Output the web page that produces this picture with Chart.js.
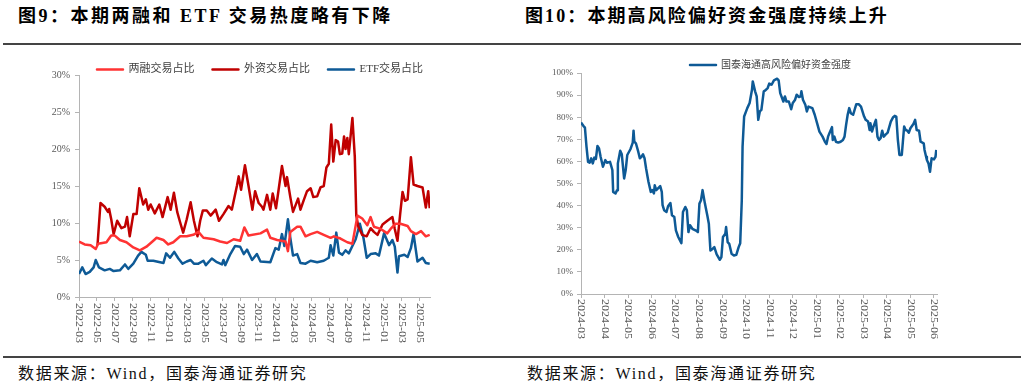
<!DOCTYPE html>
<html>
<head>
<meta charset="utf-8">
<script src="https://cdn.jsdelivr.net/npm/chart.js@4.4.1/dist/chart.umd.min.js"></script>
<style>
  body { margin: 0; width: 1024px; height: 387px; background: #fff; position: relative; overflow: hidden; }
  .title { position: absolute; top: 5px; font: bold 18px "Liberation Serif", "Noto Sans CJK SC", serif; letter-spacing: 2px; color: #000; white-space: nowrap; line-height: 22px; }
  .rule { position: absolute; left: 3px; width: 1018px; height: 2px; background: #444; }
  .src { position: absolute; top: 364px; font: 16px "Liberation Serif", "Noto Sans CJK SC", serif; letter-spacing: 1.7px; color: #111; white-space: nowrap; line-height: 20px; }
  canvas { position: absolute; top: 46px; }
</style>
</head>
<body>
<div class="title" style="left:18px; letter-spacing:2.5px">图9：本期两融和 ETF 交易热度略有下降</div>
<div class="title" style="left:525px; letter-spacing:2.1px">图10：本期高风险偏好资金强度持续上升</div>
<div class="rule" style="top:43px"></div>
<canvas id="leftChart" width="512" height="304" style="left:0"></canvas>
<canvas id="rightChart" width="512" height="304" style="left:512px"></canvas>
<div class="rule" style="top:356px"></div>
<div class="src" style="left:18px">数据来源：Wind，国泰海通证券研究</div>
<div class="src" style="left:527px">数据来源：Wind，国泰海通证券研究</div>

<script>
// ---- left chart: 2022-03 .. 2025-06 ----
const leftTickLabels = ['2022-03', '2022-05', '2022-07', '2022-09', '2022-11', '2023-01', '2023-03', '2023-05',
  '2023-07', '2023-09', '2023-11', '2024-01', '2024-03', '2024-05', '2024-07', '2024-09', '2024-11',
  '2025-01', '2025-03', '2025-05'];

const rzDates = ['2022-03-01', '2022-03-20', '2022-04-10', '2022-04-27', '2022-05-05', '2022-06-03', '2022-06-19', '2022-07-01', '2022-07-18', '2022-08-10',
  '2022-09-03', '2022-09-14', '2022-09-25', '2022-10-17', '2022-11-10', '2022-11-21', '2022-12-14', '2022-12-30', '2023-01-17', '2023-02-10',
  '2023-03-02', '2023-03-24', '2023-04-11', '2023-04-28', '2023-06-02', '2023-06-24', '2023-07-17', '2023-08-09', '2023-09-01', '2023-09-15',
  '2023-09-29', '2023-11-09', '2023-12-01', '2023-12-12', '2024-01-05', '2024-02-03', '2024-02-11', '2024-02-19', '2024-03-12', '2024-03-23',
  '2024-04-10', '2024-04-27', '2024-05-19', '2024-06-11', '2024-07-04', '2024-07-15', '2024-08-07', '2024-08-30', '2024-09-17', '2024-10-04',
  '2024-10-20', '2024-11-07', '2024-11-18', '2024-11-29', '2024-12-22', '2025-01-14', '2025-01-25', '2025-02-12', '2025-02-28', '2025-03-22',
  '2025-04-03', '2025-04-20', '2025-05-07', '2025-05-23', '2025-06-06'];
const rzValues = [7.5, 7.1, 7.0, 6.5, 7.2, 7.4, 8.3, 8.3, 7.7, 7.4,
  6.7, 6.5, 6.3, 6.8, 7.6, 8.0, 7.7, 7.1, 7.4, 8.2,
  8.2, 8.4, 8.8, 8.0, 7.8, 7.5, 7.3, 7.8, 7.6, 9.4,
  8.3, 8.6, 9.1, 8.0, 7.7, 7.5, 6.2, 8.8, 9.5, 9.5,
  8.2, 8.5, 8.8, 8.4, 8.0, 8.2, 7.9, 7.4, 7.2, 11.0,
  10.6, 9.7, 10.8, 9.5, 9.2, 8.6, 9.2, 9.9, 9.9, 9.6,
  8.9, 8.5, 8.9, 8.2, 8.4];

const wzDates = ['2022-05-03', '2022-05-13', '2022-05-27', '2022-06-08', '2022-06-12', '2022-06-19', '2022-06-27', '2022-07-09', '2022-07-23', '2022-08-05',
  '2022-08-12', '2022-08-21', '2022-09-03', '2022-09-14', '2022-09-23', '2022-10-06', '2022-10-15', '2022-10-23', '2022-11-01', '2022-11-15',
  '2022-11-30', '2022-12-11', '2022-12-28', '2023-01-08', '2023-01-19', '2023-01-30', '2023-02-09', '2023-02-20', '2023-03-02', '2023-03-15',
  '2023-03-26', '2023-04-08', '2023-04-17', '2023-04-26', '2023-05-09', '2023-05-22', '2023-06-09', '2023-06-20', '2023-07-05', '2023-07-22',
  '2023-08-03', '2023-08-20', '2023-08-26', '2023-09-04', '2023-09-17', '2023-09-29', '2023-10-12', '2023-10-21', '2023-11-03', '2023-11-14',
  '2023-11-19', '2023-12-01', '2023-12-12', '2023-12-20', '2024-01-01', '2024-01-21', '2024-02-03', '2024-02-08', '2024-02-19', '2024-02-28',
  '2024-03-15', '2024-03-23', '2024-04-04', '2024-04-15', '2024-04-27', '2024-05-06', '2024-05-19', '2024-05-30', '2024-06-11', '2024-06-20',
  '2024-06-28', '2024-07-06', '2024-07-13', '2024-07-21', '2024-07-29', '2024-08-05', '2024-08-13', '2024-08-19', '2024-08-24', '2024-08-30',
  '2024-09-05', '2024-09-17', '2024-09-25', '2024-09-30', '2024-10-07', '2024-10-20', '2024-11-05', '2024-11-18', '2024-11-29', '2024-12-11',
  '2024-12-28', '2025-01-14', '2025-02-01', '2025-02-09', '2025-02-18', '2025-02-27', '2025-03-05', '2025-03-13', '2025-03-22', '2025-04-03',
  '2025-04-12', '2025-04-25', '2025-05-12', '2025-05-23', '2025-06-01', '2025-06-06'];
const wzValues = [7.0, 12.7, 12.2, 11.5, 11.9, 10.5, 8.5, 10.3, 9.3, 9.5,
  10.8, 8.2, 11.2, 11.2, 14.7, 12.5, 13.2, 11.8, 12.5, 11.3,
  12.5, 10.8, 13.5, 11.8, 14.1, 11.5, 10.2, 8.7, 10.5, 12.8,
  10.3, 8.2, 10.3, 11.7, 11.7, 11.0, 11.8, 10.3, 11.2, 12.3,
  11.8, 15.0, 16.3, 14.5, 17.8, 15.0, 11.8, 14.3, 12.7, 12.2,
  11.8, 13.8, 11.8, 14.0, 12.0, 17.7, 15.0, 16.2, 13.5, 11.5,
  13.3, 11.8, 13.1, 14.3, 14.7, 13.5, 13.6, 14.8, 15.0, 17.5,
  18.0, 23.3, 18.3, 21.2, 21.0, 19.3, 19.4, 21.7, 20.0, 21.5,
  19.3, 24.2, 19.0, 11.0, 9.5, 8.4, 8.2, 9.3, 8.8, 8.4,
  9.8, 10.3, 10.8, 9.2, 7.6, 11.2, 14.2, 13.0, 13.2, 18.9,
  15.2, 15.0, 14.8, 12.1, 14.3, 12.0];

const etfDates = ['2022-03-01', '2022-03-12', '2022-03-23', '2022-04-07', '2022-04-20', '2022-04-27', '2022-05-08', '2022-05-27', '2022-06-14', '2022-06-27',
  '2022-07-18', '2022-08-05', '2022-08-16', '2022-09-03', '2022-09-19', '2022-09-30', '2022-10-15', '2022-10-21', '2022-11-10', '2022-12-14',
  '2022-12-23', '2023-01-06', '2023-01-20', '2023-02-04', '2023-02-18', '2023-03-02', '2023-03-15', '2023-03-26', '2023-04-11', '2023-04-28',
  '2023-05-06', '2023-05-26', '2023-06-13', '2023-06-30', '2023-07-05', '2023-07-11', '2023-07-28', '2023-08-14', '2023-09-01', '2023-09-13',
  '2023-09-24', '2023-10-11', '2023-10-27', '2023-11-09', '2023-12-12', '2023-12-29', '2024-01-10', '2024-01-21', '2024-01-29', '2024-02-11',
  '2024-02-19', '2024-02-28', '2024-03-12', '2024-03-23', '2024-04-10', '2024-04-27', '2024-05-19', '2024-06-11', '2024-06-28', '2024-07-04',
  '2024-07-13', '2024-07-23', '2024-08-02', '2024-08-13', '2024-08-24', '2024-09-05', '2024-09-17', '2024-09-28', '2024-10-12', '2024-10-24',
  '2024-11-05', '2024-11-18', '2024-12-05', '2024-12-16', '2025-01-03', '2025-01-20', '2025-02-01', '2025-02-09', '2025-02-18', '2025-02-23',
  '2025-03-11', '2025-03-22', '2025-04-03', '2025-04-12', '2025-04-25', '2025-05-12', '2025-05-23', '2025-06-06'];
const etfValues = [3.1, 4.0, 3.1, 3.4, 4.0, 5.0, 4.0, 3.6, 3.8, 3.5,
  3.6, 4.4, 3.8, 4.5, 5.6, 6.1, 5.7, 4.9, 4.9, 4.6,
  5.9, 5.3, 6.1, 5.2, 4.5, 4.8, 5.0, 4.5, 4.5, 4.9,
  4.3, 5.2, 4.7, 4.4, 5.0, 4.3, 5.8, 6.9, 6.8, 5.8,
  6.4, 5.0, 5.8, 4.8, 4.7, 6.6, 6.4, 8.5, 6.9, 10.5,
  8.0, 5.6, 5.8, 4.6, 4.5, 4.9, 4.7, 4.9, 5.3, 7.0,
  5.6, 8.7, 6.0, 5.7, 6.3, 5.9, 6.9, 7.8, 9.9, 8.0,
  5.3, 5.8, 5.9, 5.6, 8.6, 7.0, 7.7, 6.8, 3.3, 5.5,
  5.7, 5.4, 6.6, 8.5, 4.8, 5.3, 4.6, 4.5];

// ---- right chart: 2024-03 .. 2025-06 ----
const rightTickLabels = ['2024-03', '2024-04', '2024-05', '2024-06', '2024-07', '2024-08', '2024-09', '2024-10',
  '2024-11', '2024-12', '2025-01', '2025-02', '2025-03', '2025-04', '2025-05', '2025-06'];

const fxDates = ['2024-03-01', '2024-03-04', '2024-03-06', '2024-03-08', '2024-03-10', '2024-03-12', '2024-03-14', '2024-03-16', '2024-03-18', '2024-03-20',
  '2024-03-22', '2024-03-24', '2024-03-26', '2024-03-29', '2024-04-02', '2024-04-04', '2024-04-08', '2024-04-11', '2024-04-12', '2024-04-15',
  '2024-04-17', '2024-04-18', '2024-04-21', '2024-04-23', '2024-04-26', '2024-04-28', '2024-04-30', '2024-05-04', '2024-05-07', '2024-05-08',
  '2024-05-09', '2024-05-11', '2024-05-14', '2024-05-16', '2024-05-18', '2024-05-20', '2024-05-22', '2024-05-24', '2024-05-27', '2024-05-30',
  '2024-06-02', '2024-06-04', '2024-06-05', '2024-06-07', '2024-06-12', '2024-06-14', '2024-06-15', '2024-06-17', '2024-06-20', '2024-06-22',
  '2024-06-25', '2024-06-27', '2024-06-30', '2024-07-02', '2024-07-05', '2024-07-09', '2024-07-11', '2024-07-14', '2024-07-16', '2024-07-18',
  '2024-07-20', '2024-07-23', '2024-07-27', '2024-07-30', '2024-08-02', '2024-08-04', '2024-08-06', '2024-08-09', '2024-08-12', '2024-08-14',
  '2024-08-16', '2024-08-19', '2024-08-21', '2024-08-24', '2024-08-28', '2024-08-30', '2024-09-02', '2024-09-05', '2024-09-06', '2024-09-08',
  '2024-09-10', '2024-09-13', '2024-09-16', '2024-09-19', '2024-09-22', '2024-09-24', '2024-09-26', '2024-09-27', '2024-09-29', '2024-10-03',
  '2024-10-06', '2024-10-09', '2024-10-10', '2024-10-13', '2024-10-15', '2024-10-17', '2024-10-19', '2024-10-21', '2024-10-24', '2024-10-26',
  '2024-10-29', '2024-11-01', '2024-11-04', '2024-11-07', '2024-11-11', '2024-11-13', '2024-11-15', '2024-11-19', '2024-11-21', '2024-11-23',
  '2024-11-26', '2024-11-29', '2024-12-01', '2024-12-04', '2024-12-06', '2024-12-09', '2024-12-11', '2024-12-12', '2024-12-14', '2024-12-17',
  '2024-12-19', '2024-12-21', '2024-12-26', '2024-12-29', '2025-01-02', '2025-01-05', '2025-01-09', '2025-01-12', '2025-01-14', '2025-01-16',
  '2025-01-18', '2025-01-21', '2025-01-22', '2025-01-24', '2025-01-26', '2025-01-29', '2025-02-02', '2025-02-05', '2025-02-07', '2025-02-09',
  '2025-02-11', '2025-02-13', '2025-02-15', '2025-02-18', '2025-02-22', '2025-02-25', '2025-02-28', '2025-03-02', '2025-03-04', '2025-03-07',
  '2025-03-09', '2025-03-10', '2025-03-12', '2025-03-14', '2025-03-17', '2025-03-19', '2025-03-21', '2025-03-23', '2025-03-25', '2025-03-27',
  '2025-03-29', '2025-04-02', '2025-04-06', '2025-04-09', '2025-04-11', '2025-04-13', '2025-04-15', '2025-04-17', '2025-04-20', '2025-04-23',
  '2025-04-25', '2025-04-27', '2025-04-29', '2025-05-01', '2025-05-05', '2025-05-07', '2025-05-09', '2025-05-12', '2025-05-14', '2025-05-18',
  '2025-05-19', '2025-05-21', '2025-05-22', '2025-05-24', '2025-05-26', '2025-05-28', '2025-06-01', '2025-06-03', '2025-06-04'];
const fxValues = [77.6, 76.1, 75.3, 66.7, 59.8, 59.4, 61.4, 59.1, 61.7, 61.1,
  67.0, 65.9, 62.1, 57.6, 60.6, 59.4, 59.8, 56.1, 46.2, 45.5,
  47.0, 59.1, 64.8, 63.2, 52.3, 56.1, 62.9, 65.5, 68.5, 73.9,
  68.9, 68.2, 64.4, 61.4, 62.1, 63.2, 61.4, 56.8, 50.8, 46.2,
  47.0, 45.5, 49.2, 47.0, 48.8, 46.2, 40.2, 37.9, 37.1, 39.7,
  41.2, 35.6, 34.8, 28.8, 25.8, 23.0, 37.1, 39.4, 37.9, 28.0,
  31.1, 29.5, 28.8, 28.0, 40.9, 42.4, 47.0, 40.9, 35.6, 31.8,
  19.7, 20.5, 21.2, 17.9, 15.5, 16.7, 25.8, 27.3, 30.3, 23.5,
  22.7, 18.2, 17.4, 17.7, 21.2, 23.0, 42.4, 66.7, 80.3, 84.1,
  86.4, 92.4, 96.2, 91.7, 89.4, 78.8, 82.6, 83.3, 91.7, 92.1,
  93.2, 95.2, 94.7, 96.7, 97.4, 96.7, 90.9, 87.1, 89.4, 87.1,
  87.1, 83.6, 86.4, 87.9, 90.2, 89.1, 89.4, 91.7, 87.9, 85.6,
  82.6, 84.8, 84.1, 81.1, 77.3, 73.5, 71.2, 68.9, 67.9, 71.2,
  73.0, 75.5, 69.7, 71.2, 68.9, 68.5, 68.9, 69.7, 71.2, 76.5,
  81.1, 84.1, 81.8, 81.1, 85.9, 85.9, 84.8, 80.3, 78.8, 78.0,
  74.2, 77.3, 73.5, 75.8, 78.8, 71.2, 69.7, 70.5, 73.9, 71.2,
  72.0, 73.0, 78.0, 80.0, 80.6, 80.3, 69.7, 62.9, 62.9, 75.8,
  74.2, 73.9, 73.0, 75.0, 77.0, 78.8, 74.2, 73.9, 68.9, 68.2,
  65.2, 62.1, 60.6, 59.1, 55.3, 61.4, 60.9, 62.1, 65.2];

const FONT = '"Liberation Serif", "Noto Sans CJK SC", serif';
const AXIS = '#B4B4B4';
const TICK_TEXT = '#595959';

// months since the first month of the axis, day spread over a 30-day month
function monthPos(date, start) {
  const [y, m, d] = date.split('-').map(Number);
  const [y0, m0] = start.split('-').map(Number);
  return (y - y0) * 12 + (m - m0) + (d - 1) / 30;
}

function toPoints(dates, values, start) {
  return dates.map((d, i) => ({ x: monthPos(d, start), y: values[i] }));
}

// pull the legend closer to the plot and move it sideways
const legendNudge = {
  id: 'legendNudge',
  beforeInit(chart, args, opts) {
    const fit = chart.legend.fit;
    chart.legend.fit = function () {
      fit.call(this);
      this.height += opts.dy || 0;
    };
  },
  afterLayout(chart, args, opts) {
    chart.legend.left += opts.dx || 0;
    chart.legend.right += opts.dx || 0;
  }
};

// date labels written downwards under each tick
const xLabels = {
  id: 'xLabels',
  afterDraw(chart, args, opts) {
    const { ctx } = chart;
    const x = chart.scales.x;
    ctx.save();
    ctx.font = opts.font;
    ctx.fillStyle = opts.color;
    ctx.textAlign = 'left';
    ctx.textBaseline = 'middle';
    x.ticks.forEach(t => {
      const label = opts.labels[Math.round(t.value / opts.step)];
      if (!label) return;
      ctx.save();
      ctx.translate(x.getPixelForValue(t.value), x.top + opts.gap);
      ctx.rotate(Math.PI / 2);
      ctx.scale(opts.stretch, 1);
      ctx.fillText(label, 0, 0);
      ctx.restore();
    });
    ctx.restore();
  }
};

function lineSet(label, data, color) {
  return {
    label: label,
    data: data,
    borderColor: color,
    backgroundColor: color,
    borderWidth: 2.5,
    pointRadius: 0,
    tension: 0,
    borderJoinStyle: 'round'
  };
}

function axisGrid() {
  return { display: true, drawOnChartArea: false, drawTicks: true, tickLength: 4, color: AXIS };
}

new Chart(document.getElementById('leftChart'), {
  type: 'line',
  data: {
    datasets: [
      lineSet('两融交易占比', toPoints(rzDates, rzValues, '2022-03'), '#FF3333'),
      lineSet('外资交易占比', toPoints(wzDates, wzValues, '2022-03'), '#C00000'),
      lineSet('ETF交易占比', toPoints(etfDates, etfValues, '2022-03'), '#0E5A96')
    ]
  },
  options: {
    responsive: false,
    animation: false,
    devicePixelRatio: 1,
    layout: { padding: { top: 0, right: 82, bottom: 49, left: 0 } },
    scales: {
      x: {
        type: 'linear', min: 0, max: 39.2,
        border: { color: AXIS },
        grid: axisGrid(),
        ticks: { display: false, stepSize: 2, includeBounds: false }
      },
      y: {
        min: 0, max: 30,
        border: { color: AXIS },
        grid: axisGrid(),
        ticks: { stepSize: 5, padding: 5, color: TICK_TEXT, font: { family: FONT, size: 10 }, callback: v => v + '%' },
        afterFit: s => { s.width = 79; }
      }
    },
    plugins: {
      legend: {
        position: 'top',
        labels: { boxWidth: 26, boxHeight: 0, padding: 18, color: '#404040', font: { family: FONT, size: 11 } }
      },
      tooltip: { enabled: false },
      legendNudge: { dx: 45, dy: -10 },
      xLabels: { labels: leftTickLabels, step: 2, gap: 6, stretch: 1.2, color: TICK_TEXT, font: '10px ' + FONT }
    }
  },
  plugins: [legendNudge, xLabels]
});

new Chart(document.getElementById('rightChart'), {
  type: 'line',
  data: {
    datasets: [
      lineSet('国泰海通高风险偏好资金强度', toPoints(fxDates, fxValues, '2024-03'), '#0E5A96')
    ]
  },
  options: {
    responsive: false,
    animation: false,
    devicePixelRatio: 1,
    layout: { padding: { top: 4, right: 87, bottom: 52, left: 0 } },
    scales: {
      x: {
        type: 'linear', min: 0, max: 15.13,
        border: { color: AXIS },
        grid: axisGrid(),
        ticks: { display: false, stepSize: 1, includeBounds: false }
      },
      y: {
        min: 0, max: 100,
        border: { color: AXIS },
        grid: axisGrid(),
        ticks: { stepSize: 10, padding: 4, color: TICK_TEXT, font: { family: FONT, size: 9 }, callback: v => v + '%' },
        afterFit: s => { s.width = 69; }
      }
    },
    plugins: {
      legend: {
        position: 'top',
        labels: { boxWidth: 26, boxHeight: 0, padding: 10, color: '#404040', font: { family: FONT, size: 10 } }
      },
      tooltip: { enabled: false },
      legendNudge: { dx: 46, dy: -7 },
      xLabels: { labels: rightTickLabels, step: 1, gap: 5, stretch: 1.2, color: TICK_TEXT, font: '10px ' + FONT }
    }
  },
  plugins: [legendNudge, xLabels]
});
</script>
</body>
</html>
